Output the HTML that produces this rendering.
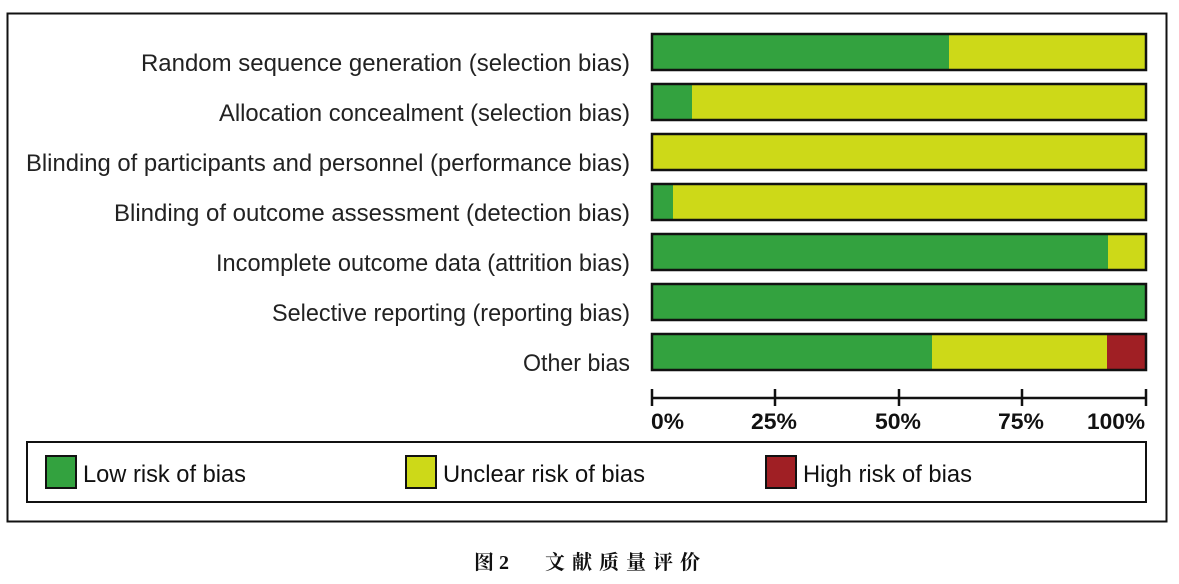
<!DOCTYPE html>
<html><head><meta charset="utf-8"><style>body{margin:0;background:#fff}svg{display:block}</style></head>
<body>
<svg width="1179" height="584" xmlns="http://www.w3.org/2000/svg" font-family="Liberation Sans, Arial, sans-serif">
<rect x="7.5" y="13.5" width="1159" height="508" fill="#fff" stroke="#111" stroke-width="2"/>
<g font-size="24" fill="#222" text-anchor="end">
<text x="630" y="71" textLength="489" lengthAdjust="spacingAndGlyphs">Random sequence generation (selection bias)</text>
<text x="630" y="121" textLength="411" lengthAdjust="spacingAndGlyphs">Allocation concealment (selection bias)</text>
<text x="630" y="171" textLength="604" lengthAdjust="spacingAndGlyphs">Blinding of participants and personnel (performance bias)</text>
<text x="630" y="221" textLength="516" lengthAdjust="spacingAndGlyphs">Blinding of outcome assessment (detection bias)</text>
<text x="630" y="271" textLength="414" lengthAdjust="spacingAndGlyphs">Incomplete outcome data (attrition bias)</text>
<text x="630" y="321" textLength="358" lengthAdjust="spacingAndGlyphs">Selective reporting (reporting bias)</text>
<text x="630" y="371" textLength="107" lengthAdjust="spacingAndGlyphs">Other bias</text>
</g>
<g stroke="none">
<rect x="652" y="34" width="297" height="36" fill="#33a23f"/><rect x="949" y="34" width="197" height="36" fill="#cdd918"/>
<rect x="652" y="84" width="40" height="36" fill="#33a23f"/><rect x="692" y="84" width="454" height="36" fill="#cdd918"/>
<rect x="652" y="134" width="494" height="36" fill="#cdd918"/>
<rect x="652" y="184" width="21" height="36" fill="#33a23f"/><rect x="673" y="184" width="473" height="36" fill="#cdd918"/>
<rect x="652" y="234" width="456" height="36" fill="#33a23f"/><rect x="1108" y="234" width="38" height="36" fill="#cdd918"/>
<rect x="652" y="284" width="494" height="36" fill="#33a23f"/>
<rect x="652" y="334" width="280" height="36" fill="#33a23f"/><rect x="932" y="334" width="175" height="36" fill="#cdd918"/><rect x="1107" y="334" width="39" height="36" fill="#a01f24"/>
</g>
<g fill="none" stroke="#111" stroke-width="2.5">
<rect x="652" y="34" width="494" height="36"/><rect x="652" y="84" width="494" height="36"/><rect x="652" y="134" width="494" height="36"/><rect x="652" y="184" width="494" height="36"/><rect x="652" y="234" width="494" height="36"/><rect x="652" y="284" width="494" height="36"/><rect x="652" y="334" width="494" height="36"/>
<path d="M652 398H1146M652 389V406M775 389V406M899 389V406M1022 389V406M1146 389V406"/>
</g>
<g font-size="22" font-weight="bold" fill="#111">
<text x="651" y="429" textLength="33" lengthAdjust="spacingAndGlyphs">0%</text>
<text x="751" y="429" textLength="46" lengthAdjust="spacingAndGlyphs">25%</text>
<text x="875" y="429" textLength="46" lengthAdjust="spacingAndGlyphs">50%</text>
<text x="998" y="429" textLength="46" lengthAdjust="spacingAndGlyphs">75%</text>
<text x="1087" y="429" textLength="58" lengthAdjust="spacingAndGlyphs">100%</text>
</g>
<rect x="27" y="442" width="1119" height="60" fill="#fff" stroke="#111" stroke-width="2"/>
<rect x="46" y="456" width="30" height="32" fill="#33a23f" stroke="#111" stroke-width="2"/>
<rect x="406" y="456" width="30" height="32" fill="#cdd918" stroke="#111" stroke-width="2"/>
<rect x="766" y="456" width="30" height="32" fill="#a01f24" stroke="#111" stroke-width="2"/>
<g font-size="24" fill="#111">
<text x="83" y="482" textLength="163" lengthAdjust="spacingAndGlyphs">Low risk of bias</text>
<text x="443" y="482" textLength="202" lengthAdjust="spacingAndGlyphs">Unclear risk of bias</text>
<text x="803" y="482" textLength="169" lengthAdjust="spacingAndGlyphs">High risk of bias</text>
</g>
<g font-family="Liberation Serif, Noto Serif CJK SC, serif" font-size="20" font-weight="bold" fill="#111">
<text x="474" y="569">图 2</text>
<text x="545" y="569" textLength="155" lengthAdjust="spacing">文献质量评价</text>
</g>
</svg>
</body></html>
